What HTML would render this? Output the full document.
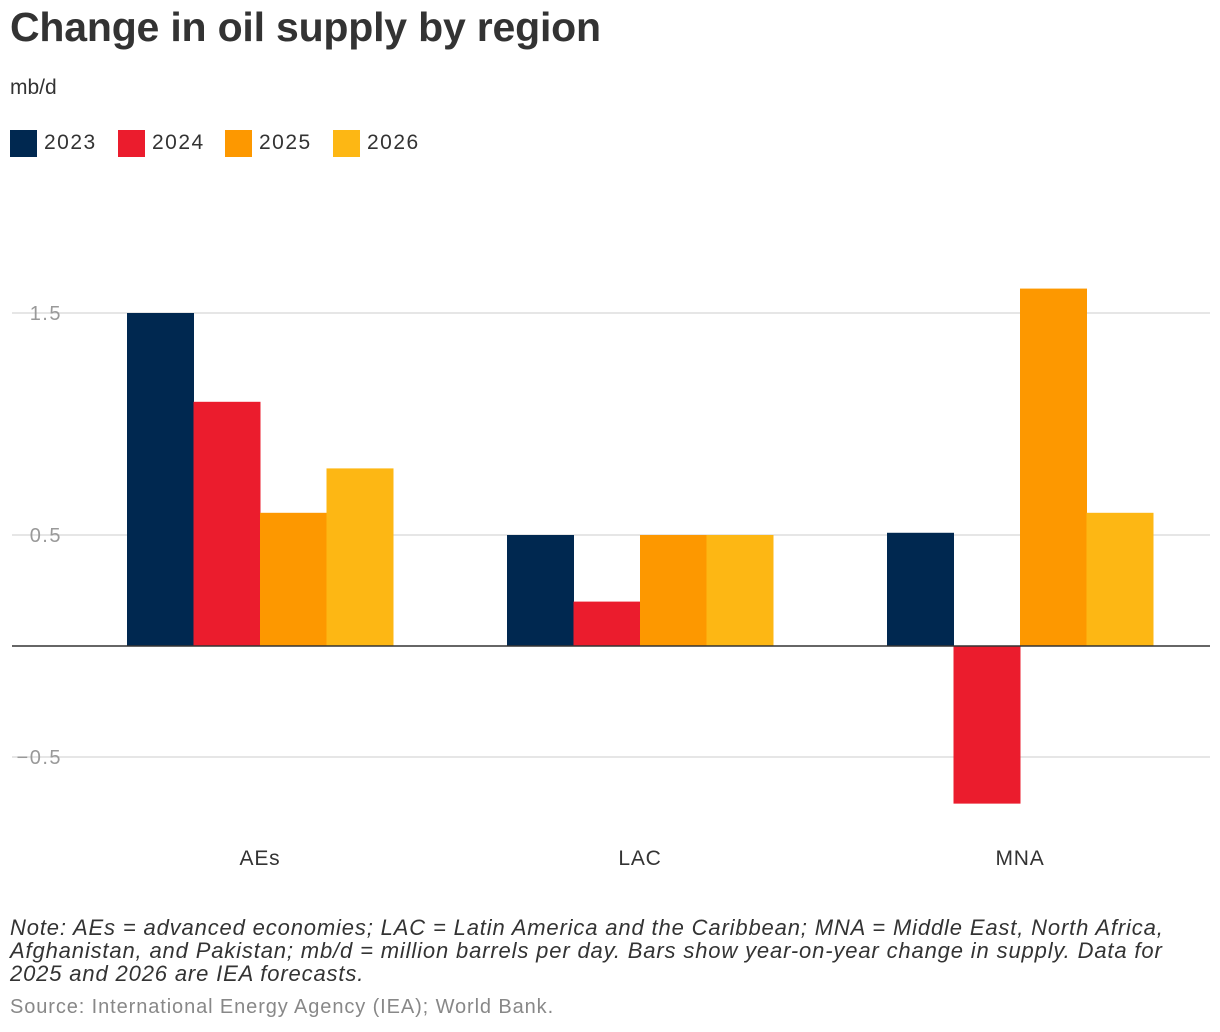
<!DOCTYPE html>
<html><head><meta charset="utf-8"><style>
body{margin:0;width:1220px;height:1032px;background:#fff;font-family:"Liberation Sans",sans-serif;color:#333;position:relative;overflow:hidden}
.t{position:absolute;white-space:nowrap}
</style></head><body>
<div class="t" style="left:10px;top:4px;font-size:41px;font-weight:bold;letter-spacing:-0.2px;color:#333">Change in oil supply by region</div>
<div class="t" style="left:10px;top:76px;font-size:21px">mb/d</div>
<div id="legend"></div>
<svg id="chart" width="1220" height="1032" style="position:absolute;left:0;top:0"></svg>
<div class="t" style="left:10px;top:916px;font-size:22px;letter-spacing:0.85px;font-style:italic;line-height:23px;color:#333">Note: AEs = advanced economies; LAC = Latin America and the Caribbean; MNA = Middle East, North Africa,<br>Afghanistan, and Pakistan; mb/d = million barrels per day. Bars show year-on-year change in supply. Data for<br>2025 and 2026 are IEA forecasts.</div>
<div class="t" style="left:10px;top:996px;font-size:20px;letter-spacing:0.9px;color:#888">Source: International Energy Agency (IEA); World Bank.</div>
<script>
const categories=["AEs","LAC","MNA"];
const seriesNames=["2023","2024","2025","2026"];
const colors=["#002850","#eb1c2d","#fd9800","#fdb714"];
const v2023=[1.5,0.5,0.51];
const v2024=[1.1,0.2,-0.71];
const v2025=[0.6,0.5,1.61];
const v2026=[0.8,0.5,0.6];
const yTicks=[1.5,0.5,-0.5];
const yTickLabels=["1.5","0.5","\u22120.5"];
const series=[v2023,v2024,v2025,v2026];
const ns="http://www.w3.org/2000/svg";
const svg=document.getElementById('chart');
const y=v=>646-v*222;
const xCenter=i=>260+i*380;
const bw=66.5;
function mk(t,a){const e=document.createElementNS(ns,t);for(const k in a)e.setAttribute(k,a[k]);svg.appendChild(e);return e;}
yTicks.forEach((t,i)=>{
 const l=mk('line',{x1:12,x2:1210,y1:y(t),y2:y(t),stroke:'#ddd','stroke-width':1.5});
 
 
 const tx=mk('text',{x:62,y:y(t)+7,'text-anchor':'end','font-size':20,fill:'#999','letter-spacing':'1.5px'});
 tx.textContent=yTickLabels[i];
 
 
});
categories.forEach((c,ci)=>{
 series.forEach((s,si)=>{
  const v=s[ci];const x=xCenter(ci)-2*bw+si*bw;
  const r=mk('rect',{x:x,y:Math.min(y(v),y(0)),width:bw+0.5,height:Math.abs(y(v)-y(0)),fill:colors[si]});
  
  
 });
 const tx=mk('text',{x:xCenter(ci),y:865,'text-anchor':'middle','font-size':21,fill:'#333','letter-spacing':'0.8px'});
 tx.textContent=c;
 
 
});
const z=mk('line',{x1:12,x2:1210,y1:y(0),y2:y(0),stroke:'#333','stroke-width':1.5});


const lg=document.getElementById('legend');
const lx=[10,118,225,333];
seriesNames.forEach((n,i)=>{
 const sw=document.createElement('div');
 sw.className='t';sw.style.cssText=`left:${lx[i]}px;top:130px;width:27px;height:27px;background:${colors[i]}`;
 
 
 lg.appendChild(sw);
 const t=document.createElement('div');
 t.className='t';t.style.cssText=`left:${lx[i]+34}px;top:130px;font-size:21px;line-height:26px;letter-spacing:1.5px`;
 t.textContent=n;
 
 
 lg.appendChild(t);
});
</script>
</body></html>
